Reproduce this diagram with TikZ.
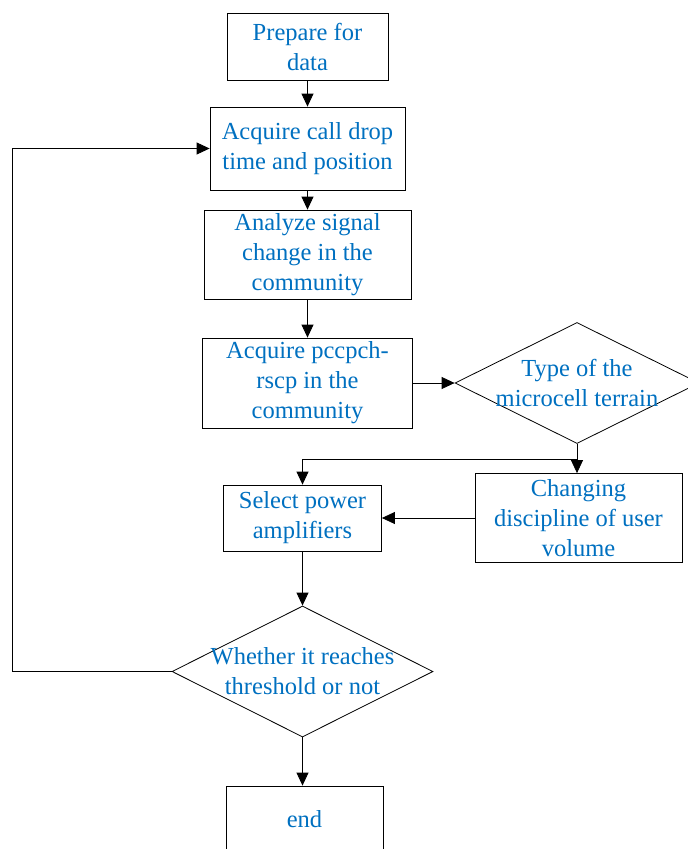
\documentclass[tikz,border=0pt]{standalone}
\usepackage{fontspec}
\setmainfont{Liberation Serif}
\usepackage{tikz}
\usetikzlibrary{shapes.geometric,arrows.meta}
\definecolor{txtblue}{RGB}{0,112,192}

\begin{document}
\begin{tikzpicture}[x=1pt,y=-1pt,
    txt/.style={align=center,text=txtblue,font=\fontsize{24.5}{30}\selectfont},
    box/.style={rectangle,draw,line width=0.8pt,inner sep=0pt,txt},
    choice/.style={diamond,draw,line width=0.8pt,inner sep=0pt},
    arr/.style={-{Triangle[length=13pt,width=12pt]},line width=0.8pt}]
        \useasboundingbox (0,0) rectangle (688,849);

        % main column
        \node[box,minimum width=161pt,minimum height=67pt] (prep) at (307.5,46.5) {Prepare for\\data};
        \node[box,minimum width=195pt,minimum height=83pt] (acq) at (307.5,148.5) {Acquire call drop\\time and position};
        \node[box,minimum width=207pt,minimum height=89pt] (ana) at (307.5,254.5) {Analyze signal\\change in the\\community};
        \node[box,minimum width=210pt,minimum height=90pt] (pcc) at (307.5,383) {Acquire pccpch-\\rscp in the\\community};
        \node[box,minimum width=158pt,minimum height=66pt] (sel) at (302.5,518) {Select power\\amplifiers};
        \node[choice,minimum width=261pt,minimum height=131pt,
              label={[txt]center:Whether it reaches\\threshold or not}] (thr) at (302.5,671.5) {};
        \node[box,minimum width=157pt,minimum height=66pt] (end) at (304.5,819) {end};

        % right branch
        \node[choice,minimum width=244pt,minimum height=121pt,
              label={[txt]center:Type of the\\microcell terrain}] (terr) at (577,383) {};
        \node[box,minimum width=207pt,minimum height=89pt] (chg) at (578.5,518) {Changing\\discipline of user\\volume};

        \coordinate (fork) at (577,459);
        \coordinate (bend) at (12,671.5);

        \draw[arr] (prep) -- (acq);
        \draw[arr] (acq) -- (ana);
        \draw[arr] (ana) -- (pcc);
        \draw[arr] (pcc.east) -- (terr.west);
        \draw[arr] (terr.south) -- (terr.south |- chg.north);
        \draw[arr] (fork) -| (sel.north);
        \draw[arr] (chg.west) -- (sel.east);
        \draw[arr] (sel.south) -- (thr.north);
        \draw[arr] (thr.south) -- (thr.south |- end.north);
        \draw[arr] (thr.west) -- (bend) |- (acq.west);
\end{tikzpicture}
\end{document}
